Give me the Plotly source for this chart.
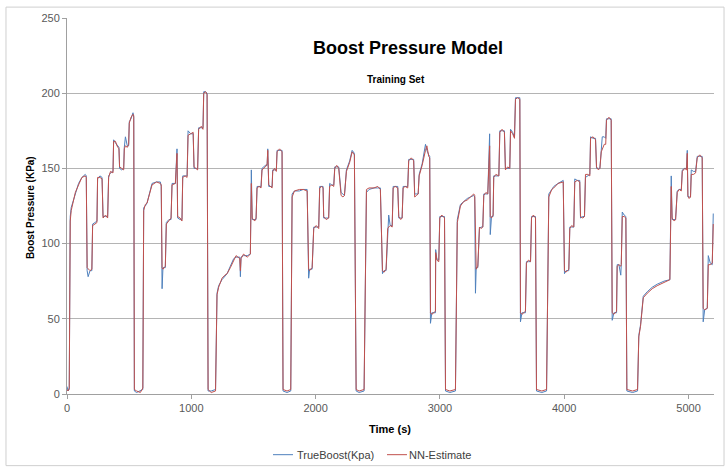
import plotly.graph_objects as go

# Logged run, seconds
time_s = [
    0, 8, 18, 26, 34, 53, 67, 93, 120, 147, 155, 162, 170, 185, 200, 206, 225, 241, 246, 265,
    282, 290, 310, 327, 335, 350, 370, 375, 390, 402, 418, 423, 440, 456, 461, 470, 485, 496, 501, 515,
    531, 537, 542, 560, 590, 610,
    617, 630, 644, 665, 684, 720, 751, 758, 765, 772, 791, 799, 820, 837, 845, 872, 885, 890, 910, 925,
    931, 950, 966, 974, 995, 1015, 1022, 1040, 1051, 1059, 1080, 1094, 1100, 1115, 1127, 1135, 1160, 1195,
    1207, 1220, 1247, 1270, 1288, 1314, 1341, 1360, 1390, 1395, 1400, 1420, 1450, 1475, 1483, 1490, 1510, 1521,
    1529, 1545, 1561, 1569, 1596, 1610, 1615, 1623, 1650, 1655, 1670, 1684, 1690, 1710, 1730, 1738, 1770, 1800,
    1811, 1830, 1870, 1900, 1932, 1944, 1952, 1972, 1985, 2005, 2025, 2033, 2050, 2060, 2065, 2085, 2105, 2113,
    2130, 2146, 2154, 2170, 2186, 2205, 2220, 2232, 2248, 2274, 2294, 2312, 2326, 2350, 2390,
    2409, 2430, 2470, 2500, 2521, 2538, 2550, 2567, 2580, 2588, 2600, 2616, 2624, 2640, 2661, 2669, 2685, 2696,
    2704, 2720, 2741, 2749, 2770, 2789, 2797, 2812, 2825, 2833, 2857, 2884, 2895, 2910, 2918, 2924, 2935, 2964,
    2966, 2975, 2991, 2999, 3015, 3037, 3045, 3080, 3125,
    3140, 3165, 3192, 3220, 3246, 3272, 3280, 3286, 3292, 3305, 3318, 3330, 3345, 3353, 3370, 3385, 3400, 3405,
    3415, 3428, 3433, 3450, 3474, 3482, 3500, 3519, 3527, 3545, 3562, 3568, 3585, 3600, 3608, 3625, 3643, 3648,
    3660, 3688, 3696, 3712, 3729, 3737, 3752, 3769, 3777, 3820, 3858,
    3876, 3900, 3916, 3950, 3992, 4002, 4015, 4037, 4045, 4060, 4077, 4085, 4105, 4125, 4131, 4150, 4163, 4171,
    4190, 4206, 4212, 4232, 4252, 4260, 4275, 4287, 4298, 4306, 4322, 4334, 4340, 4360, 4378, 4386, 4400, 4421,
    4426, 4440, 4455, 4459, 4467, 4482, 4496, 4504, 4550, 4590,
    4600, 4614, 4636, 4668, 4708, 4748, 4802, 4850, 4861, 4868, 4885, 4896, 4909, 4925, 4942, 4950, 4970, 4984,
    4990, 4995, 5005, 5016, 5022, 5040, 5057, 5070, 5090, 5110, 5118, 5130, 5151, 5159, 5175, 5191, 5199,
]

# Measured boost pressure, kPa
true_boost = [
    5, 2, 3, 118, 124, 129, 134, 140, 144, 146, 145, 82, 78, 82, 82, 113, 114, 115, 143, 145,
    144, 118, 118, 118, 145, 147, 148, 169, 167, 166, 164, 150, 149, 150, 164, 171, 165, 165, 181, 183,
    187, 184, 2, 1, 2, 3,
    124, 125, 127, 135, 140, 141, 141, 138, 70, 84, 84, 114, 116, 116, 140, 140, 163, 117, 116, 116,
    145, 145, 145, 175, 173, 173, 150, 150, 150, 177, 177, 177, 201, 201, 200, 2, 2, 3,
    67, 72, 76, 78, 80, 85, 90, 91, 91, 78, 91, 92, 92, 93, 149, 116, 116, 116,
    138, 138, 138, 150, 152, 152, 163, 138, 138, 149, 149, 149, 162, 162, 162, 2, 1, 2,
    133, 135, 135, 136, 136, 77, 83, 83, 111, 111, 111, 138, 138, 138, 117, 117, 117, 140,
    139, 139, 151, 151, 151, 134, 133, 132, 149, 155, 162, 160, 2, 1, 2,
    134, 136, 137, 137, 137, 80, 82, 82, 111, 119, 112, 112, 138, 138, 138, 117, 117, 117,
    138, 138, 138, 156, 156, 156, 133, 133, 133, 146, 153, 166, 162, 159, 158, 47, 54, 54,
    96, 90, 89, 118, 118, 118, 2, 1, 2,
    116, 126, 128, 130, 131, 132, 131, 67, 84, 84, 110, 111, 111, 133, 133, 133, 173, 106,
    118, 118, 145, 145, 145, 175, 175, 175, 150, 150, 150, 176, 174, 171, 197, 197, 197, 48,
    54, 54, 88, 88, 88, 118, 118, 118, 2, 1, 2,
    133, 136, 138, 140, 142, 80, 82, 82, 111, 111, 111, 143, 142, 142, 117, 118, 118, 144,
    145, 146, 171, 170, 170, 150, 150, 150, 162, 171, 171, 170, 183, 183, 183, 49, 54, 54,
    86, 86, 79, 86, 121, 119, 118, 2, 1, 2,
    39, 46, 65, 68, 71, 73, 75, 76, 145, 116, 116, 116, 135, 136, 136, 149, 150, 150,
    162, 131, 131, 131, 149, 148, 148, 158, 158, 158, 48, 56, 57, 92, 87, 86, 120,
]

# Network estimate, kPa
nn_estimate = [
    3, 2, 4, 115, 122, 128, 134, 139, 144, 145, 144, 84, 83, 82, 83, 112, 113, 114, 144, 144,
    143, 117, 119, 117, 144, 148, 147, 168, 168, 165, 163, 151, 150, 149, 163, 165, 164, 166, 180, 184,
    186, 185, 3, 2, 1, 4,
    122, 126, 127, 134, 139, 141, 140, 139, 84, 83, 85, 113, 115, 117, 139, 140, 160, 118, 117, 115,
    144, 145, 144, 172, 173, 174, 151, 150, 149, 176, 178, 176, 200, 201, 199, 3, 1, 2,
    66, 71, 77, 79, 80, 84, 89, 92, 90, 82, 90, 93, 91, 93, 140, 117, 115, 117,
    137, 138, 137, 149, 151, 153, 162, 139, 137, 148, 150, 148, 161, 163, 161, 3, 2, 3,
    131, 135, 136, 136, 135, 83, 82, 84, 110, 112, 110, 137, 138, 137, 118, 116, 117, 138,
    139, 138, 150, 152, 150, 132, 131, 132, 148, 154, 161, 159, 3, 2, 3,
    136, 137, 137, 138, 136, 82, 81, 83, 110, 111, 112, 111, 137, 138, 137, 118, 116, 117,
    137, 138, 137, 155, 157, 155, 131, 132, 133, 145, 152, 162, 165, 158, 157, 54, 53, 55,
    94, 89, 88, 117, 119, 117, 3, 2, 3,
    114, 125, 128, 129, 131, 133, 132, 84, 83, 85, 111, 110, 111, 132, 134, 133, 165, 118,
    117, 119, 144, 146, 145, 174, 176, 174, 149, 151, 150, 175, 173, 170, 196, 197, 196, 54,
    53, 55, 87, 89, 88, 117, 119, 117, 3, 2, 3,
    131, 136, 137, 140, 141, 82, 81, 83, 110, 112, 111, 141, 142, 141, 118, 117, 118, 146,
    146, 145, 170, 171, 169, 151, 149, 150, 161, 163, 166, 166, 182, 184, 182, 54, 53, 55,
    85, 86, 85, 86, 118, 118, 117, 3, 2, 3,
    38, 45, 64, 67, 70, 72, 74, 76, 138, 117, 115, 116, 134, 136, 135, 148, 150, 149,
    160, 132, 130, 131, 146, 146, 147, 157, 159, 157, 57, 56, 57, 86, 86, 87, 113,
]

series_names = ["TrueBoost(Kpa)", "NN-Estimate"]
series_colors = ["#4F81BD", "#C0504D"]

FONT = "Arial, Liberation Sans, sans-serif"
GRID = "#B4B4B4"
AXIS = "#A0A0A0"

fig = go.Figure()
for name, values, color in zip(series_names, [true_boost, nn_estimate], series_colors):
    fig.add_trace(go.Scatter(
        x=time_s, y=values, mode="lines", name=name,
        line=dict(color=color, width=1), showlegend=False,
    ))

# Legend drawn under the axis title: short line sample followed by the series name
legend_rows = [(0.3184, 0.3493, 0.3555), (0.4946, 0.5255, 0.5286)]
legend_y = -0.1614
shapes = [dict(
    type="rect", xref="paper", yref="paper",
    x0=-0.0943, x1=1.0155, y0=-0.1905, y1=1.029,
    line=dict(color="#CFCFCF", width=1), fillcolor="rgba(0,0,0,0)", layer="below",
)]
annotations = [
    dict(text="<b>Boost Pressure Model</b>", xref="paper", yref="paper",
         x=0.527, y=0.921, xanchor="center", yanchor="middle", showarrow=False,
         font=dict(family=FONT, size=18, color="#000000")),
    dict(text="<b>Training Set</b>", xref="paper", yref="paper",
         x=0.5085, y=0.836, xanchor="center", yanchor="middle", showarrow=False,
         font=dict(family=FONT, size=10, color="#000000")),
    dict(text="<b>Time (s)</b>", xref="paper", yref="paper",
         x=0.4992, y=-0.0926, xanchor="center", yanchor="middle", showarrow=False,
         font=dict(family=FONT, size=11, color="#000000")),
    dict(text="<b>Boost Pressure (KPa)</b>", xref="paper", yref="paper",
         x=-0.0572, y=0.497, xanchor="center", yanchor="middle", showarrow=False,
         textangle=-90, font=dict(family=FONT, size=10, color="#000000")),
]
for (lx0, lx1, tx), name, color in zip(legend_rows, series_names, series_colors):
    shapes.append(dict(type="line", xref="paper", yref="paper",
                       x0=lx0, x1=lx1, y0=legend_y, y1=legend_y,
                       line=dict(color=color, width=1)))
    annotations.append(dict(text=name, xref="paper", yref="paper",
                            x=tx, y=legend_y, xanchor="left", yanchor="middle",
                            showarrow=False, xshift=-2,
                            font=dict(family=FONT, size=11, color="#404040")))

fig.update_layout(
    width=727, height=468,
    margin=dict(l=67, r=13, t=16, b=74),
    paper_bgcolor="white", plot_bgcolor="white",
    font=dict(family=FONT, size=11, color="#404040"),
    showlegend=False,
    xaxis=dict(
        range=[0, 5205], tickmode="array", tickvals=[0, 1000, 2000, 3000, 4000, 5000],
        showgrid=False, zeroline=False,
        showline=True, linecolor=AXIS, linewidth=1,
        ticks="outside", ticklen=4, tickcolor=AXIS,
        tickfont=dict(family=FONT, size=11, color="#595959"),
    ),
    yaxis=dict(
        range=[0, 250], tickmode="array", tickvals=[0, 50, 100, 150, 200, 250],
        showgrid=True, gridcolor=GRID, gridwidth=1, zeroline=False,
        showline=True, linecolor=AXIS, linewidth=1,
        ticks="outside", ticklen=4, tickcolor=AXIS,
        tickfont=dict(family=FONT, size=11, color="#595959"),
    ),
    shapes=shapes,
    annotations=annotations,
)

fig.write_html("out.html")
